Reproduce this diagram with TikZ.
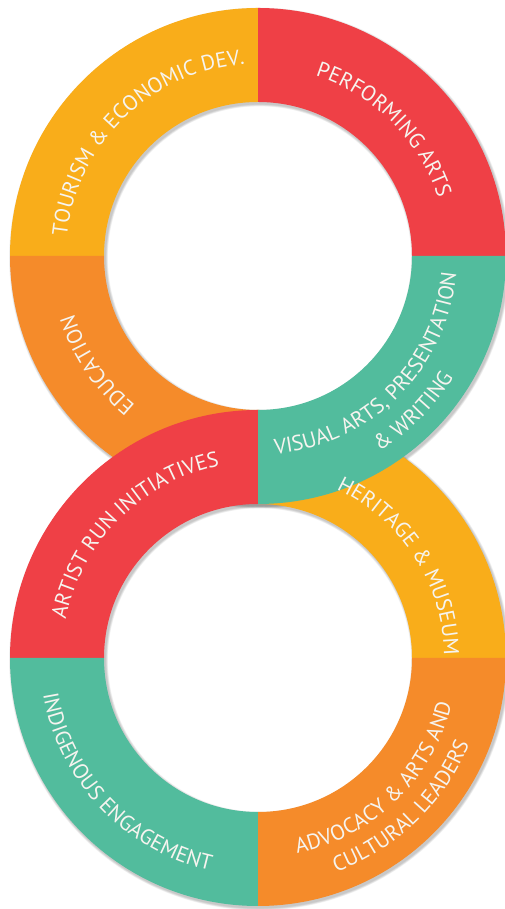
\documentclass[tikz,border=0pt]{standalone}
\usepackage{fontspec}
\setmainfont{PT Sans}
\usetikzlibrary{calc,decorations.text}

\definecolor{ringyellow}{HTML}{F9AD1A}
\definecolor{ringred}{HTML}{EF4046}
\definecolor{ringteal}{HTML}{52BC9D}
\definecolor{ringorange}{HTML}{F58B2A}
\definecolor{labelwhite}{HTML}{F6F4EF}

% one quarter of a ring: centre, start angle, end angle, colour
\newcommand{\ringpart}[4]{%
  \fill[#4] ($(#1)+(#2:248pt)$) arc[start angle=#2, end angle=#3, radius=248pt]
    -- ($(#1)+(#3:154pt)$) arc[start angle=#3, end angle=#2, radius=154pt] -- cycle;}
\newcommand{\lbl}{\fontsize{21.5}{24}\selectfont\color{labelwhite}}

\tikzset{
  ringlabel/.style={decorate, decoration={text along path, text align=center,
      text={|\lbl|#1}}}
}

\begin{document}
\begin{tikzpicture}[x=1pt, y=1pt]
      \useasboundingbox (0,0) rectangle (505,909);
      \coordinate (top) at (258,653);
      \coordinate (bot) at (258,251);

      % Soft shadow under both rings
      \foreach \c in {top, bot} {
          \foreach \k in {1,...,6} {
              \draw[black, opacity=0.04, line width=94pt+\k*0.8pt]
                  ($(\c)+(1.5pt,-2pt)$) circle[radius=201pt];
          }
      }

      % Upper ring (teal quarter comes last, it crosses the lower ring)
      \ringpart{top}{90}{180}{ringyellow}
      \ringpart{top}{0}{90}{ringred}
      \ringpart{top}{180}{270}{ringorange}

      % Lower ring
      \ringpart{bot}{90}{180}{ringred}
      \ringpart{bot}{0}{90}{ringyellow}
      \ringpart{bot}{180}{270}{ringteal}
      \ringpart{bot}{270}{360}{ringorange}

      \ringpart{top}{270}{360}{ringteal}

      % Labels on the upper ring
      \path[ringlabel={TOURISM {\&} ECONOMIC DEV.}]
          ($(top)+(179:192pt)$) arc[start angle=179, end angle=89, radius=192pt];
      \path[ringlabel={PERFORMING ARTS}]
          ($(top)+(88:189pt)$) arc[start angle=88, end angle=2, radius=189pt];
      \path[ringlabel={EDUCATION}]
          ($(top)+(250:193pt)$) arc[start angle=250, end angle=178, radius=193pt];
      \path[ringlabel={VISUAL ARTS, PRESENTATION}]
          ($(top)+(-92:199pt)$) arc[start angle=-92, end angle=2, radius=199pt];
      \path[ringlabel={{\&} WRITING}]
          ($(top)+(-90:230pt)$) arc[start angle=-90, end angle=0, radius=230pt];

      % Labels on the lower ring
      \path[ringlabel={ARTIST RUN INITIATIVES}]
          ($(bot)+(179:196pt)$) arc[start angle=179, end angle=91, radius=196pt];
      \path[ringlabel={HERITAGE {\&} MUSEUM}]
          ($(bot)+(66:186pt)$) arc[start angle=66, end angle=0, radius=186pt];
      \path[ringlabel={INDIGENOUS ENGAGEMENT}]
          ($(bot)+(179:218pt)$) arc[start angle=179, end angle=268, radius=218pt];
      \path[ringlabel={ADVOCACY {\&} ARTS AND}]
          ($(bot)+(-91:199pt)$) arc[start angle=-91, end angle=-1, radius=199pt];
      \path[ringlabel={CULTURAL LEADERS}]
          ($(bot)+(-91:228pt)$) arc[start angle=-91, end angle=-1, radius=228pt];
    \end{tikzpicture}
\end{document}
